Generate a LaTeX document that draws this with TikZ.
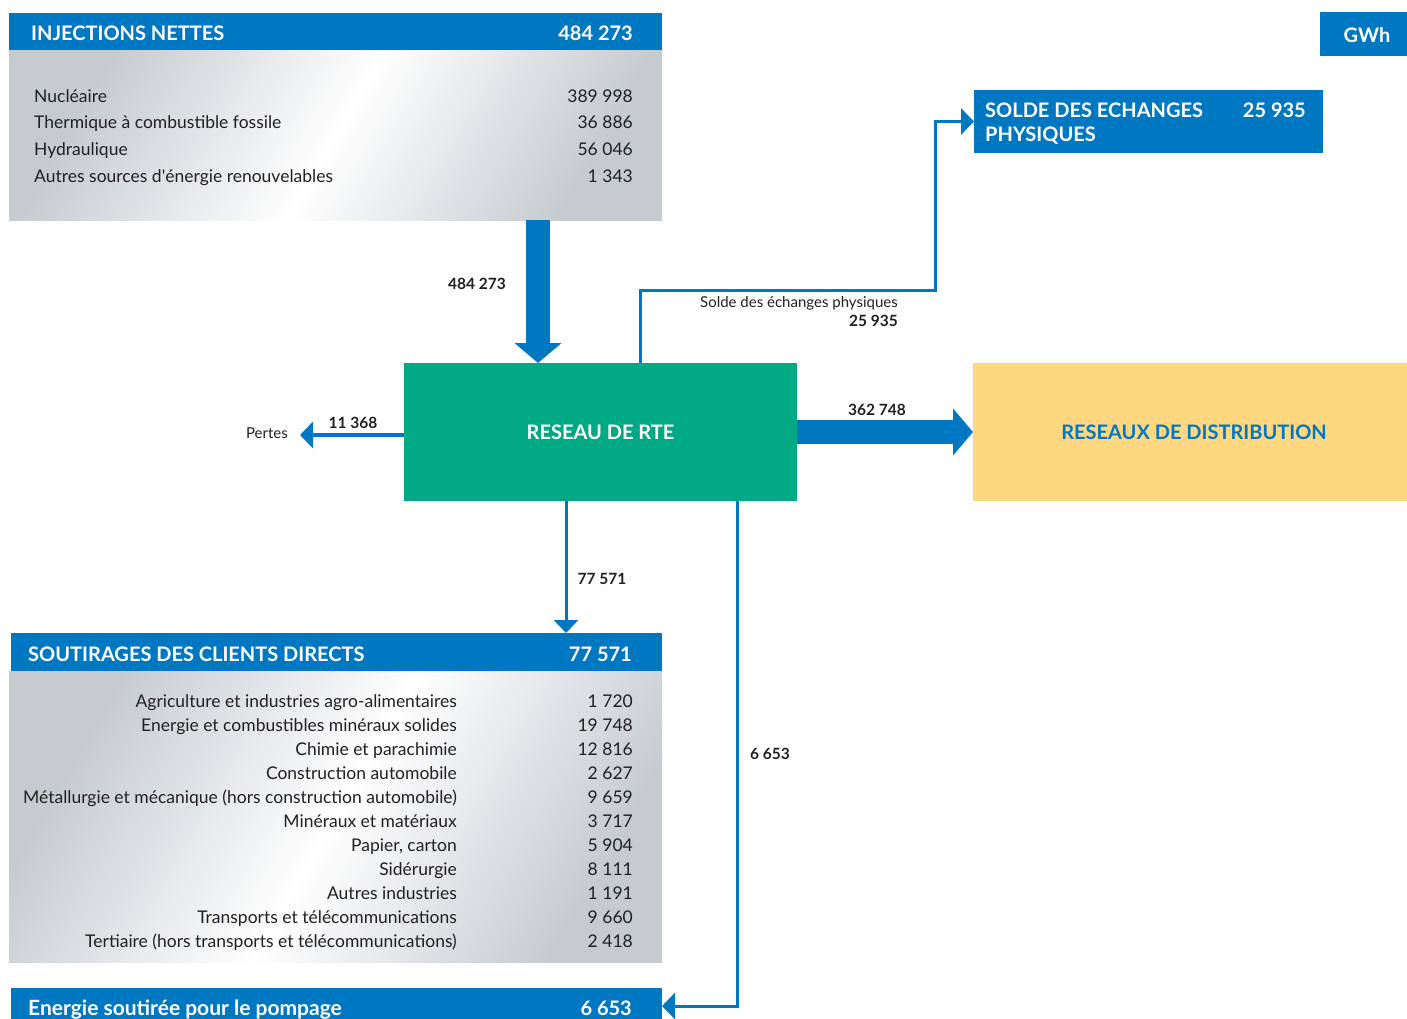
\documentclass[tikz,border=0pt]{standalone}
\usepackage{fontspec}
\setmainfont{Lato}
\usetikzlibrary{arrows.meta,positioning,calc}
\definecolor{RteBlue}{RGB}{0,119,193}
\definecolor{RteGreen}{RGB}{0,168,132}
\definecolor{DistYellow}{RGB}{254,215,128}
\definecolor{PanelGrey}{RGB}{198,203,208}
\definecolor{TextClr}{RGB}{35,31,32}

\begin{document}
\begin{tikzpicture}[x=1pt,y=-1pt,
  box/.style={anchor=north west,inner sep=0pt,outer sep=0pt},
  bluebox/.style={box,fill=RteBlue},
  panel/.style={box,left color=PanelGrey,right color=PanelGrey,middle color=white,shading angle=60},
  headtxt/.style={text=white,font=\bfseries\fontsize{20}{23}\selectfont,inner sep=0pt,text height=14pt,text depth=4pt},
  boxtxt/.style={font=\bfseries\fontsize{20}{23}\selectfont,inner sep=0pt},
  rowtxt/.style={text=TextClr,font=\fontsize{17.5}{20}\selectfont,inner sep=0pt,text height=13pt,text depth=4pt},
  flowtxt/.style={text=TextClr,font=\bfseries\fontsize{15.5}{18}\selectfont,inner sep=0pt},
  smalltxt/.style={text=TextClr,font=\fontsize{15}{18}\selectfont,inner sep=0pt},
  bigarrow/.style={draw=RteBlue,line width=24pt,-{Triangle[length=20pt,width=46pt]}},
  thinarrow/.style={draw=RteBlue,line width=3.5pt,-{Triangle[length=13pt,width=26pt]}},
]
\useasboundingbox (0,0) rectangle (1407,1019);
\clip (0,0) rectangle (1407,1019);

% boxes
\node[bluebox,minimum width=653,minimum height=38] (injH) at (9,13) {};
\node[panel,minimum width=653,minimum height=169] (injP) at (9,51) {};
\node[box,fill=RteGreen,minimum width=393,minimum height=138] (rte) at (404,363) {};
\node[box,fill=DistYellow,minimum width=434,minimum height=138] (dist) at (973,363) {};
\node[bluebox,minimum width=349,minimum height=63] (solde) at (974,90) {};
\node[bluebox,minimum width=90,minimum height=44] (gwh) at (1320,12) {};
\node[bluebox,minimum width=651,minimum height=38] (soutH) at (11,633) {};
\node[panel,minimum width=653,minimum height=291] (soutP) at (9,671) {};
\node[bluebox,minimum width=651,minimum height=36] (pompH) at (11,988) {};

% injections
\node[headtxt,anchor=west] (injT) at (31,36) {INJECTIONS NETTES};
\node[headtxt,anchor=east] (injV) at (633,36) {484 273};
\foreach \lab/\val [count=\i] in {Nucléaire/389 998,Thermique à combustible fossile/36 886,
  Hydraulique/56 046,Autres sources d\textquotesingle énergie renouvelables/1 343}{
  \node[rowtxt,anchor=west] (injL\i) at (34,{71+26.7*\i}) {\lab};
  \node[rowtxt,anchor=east] (injN\i) at (633,{71+26.7*\i}) {\val};
}

% centre and destinations
\node[boxtxt,text=white] (gwhT) at (1367,35) {GWh};
\node[boxtxt,text=white] (rteT) at (rte.center) {RESEAU DE RTE};
\node[boxtxt,text=RteBlue] (distT) at ([xshift=4pt]dist.center) {RESEAUX DE DISTRIBUTION};
\node[boxtxt,text=white,anchor=west] (soldeT1) at (985,110) {SOLDE DES ECHANGES};
\node[boxtxt,text=white,anchor=west] (soldeT2) at (985,136) {PHYSIQUES};
\node[boxtxt,text=white,anchor=east] (soldeV) at (1306,110) {25 935};

% soutirages
\node[headtxt,anchor=west] (soutT) at (28,656) {SOUTIRAGES DES CLIENTS DIRECTS};
\node[headtxt,anchor=east] (soutV) at (632,656) {77 571};
\foreach \lab/\val [count=\i] in {Agriculture et industries agro-alimentaires/1 720,
  Energie et combustibles minéraux solides/19 748,Chimie et parachimie/12 816,
  Construction automobile/2 627,Métallurgie et mécanique (hors construction automobile)/9 659,
  Minéraux et matériaux/3 717,Papier{,} carton/5 904,Sidérurgie/8 111,
  Autres industries/1 191,Transports et télécommunications/9 660,
  Tertiaire (hors transports et télécommunications)/2 418}{
  \node[rowtxt,anchor=east] (soutL\i) at (457,{678.5+24*\i}) {\lab};
  \node[rowtxt,anchor=east] (soutN\i) at (633,{678.5+24*\i}) {\val};
}
\node[headtxt,anchor=west,font=\bfseries\fontsize{21}{24}\selectfont] (pompT) at (28,1010) {Energie soutirée pour le pompage};
\node[headtxt,anchor=east] (pompV) at (632,1010) {6 653};

% flows
\coordinate (rteIn) at (538,363);
\coordinate (rteOut) at (640,363);
\coordinate (rteSout) at (566,501);
\coordinate (rtePomp) at (737,501);
\coordinate (lossEnd) at (300,435);
\draw[bigarrow] (injP.south -| rteIn) -- (rteIn);
\draw[bigarrow] (rte.east) -- (dist.west);
\draw[thinarrow] (rte.west |- lossEnd) -- (lossEnd);
\draw[thinarrow,line width=3pt] (rteOut) -- (640,290) -- (935,290) |- (solde.west);
\draw[thinarrow,line width=3pt,-{Triangle[length=13pt,width=24pt]}] (rteSout) -- (rteSout |- soutH.north);
\draw[thinarrow,line width=3pt] (rtePomp) |- (pompH.east);

% flow labels
\node[flowtxt,anchor=east] (lblIn) at (506,284) {484 273};
\node[smalltxt,anchor=east] (lblSolde) at (898,303) {Solde des échanges physiques};
\node[flowtxt,anchor=east] (lblSoldeV) at (898,321) {25 935};
\node[flowtxt] (lblDist) at (877,410) {362 748};
\node[smalltxt,anchor=east] (lblPertes) at (288,433) {Pertes};
\node[flowtxt] (lblLoss) at (353,423) {11 368};
\node[flowtxt] (lblSout) at (602,579) {77 571};
\node[flowtxt] (lblPomp) at (770,754) {6 653};
\end{tikzpicture}
\end{document}
